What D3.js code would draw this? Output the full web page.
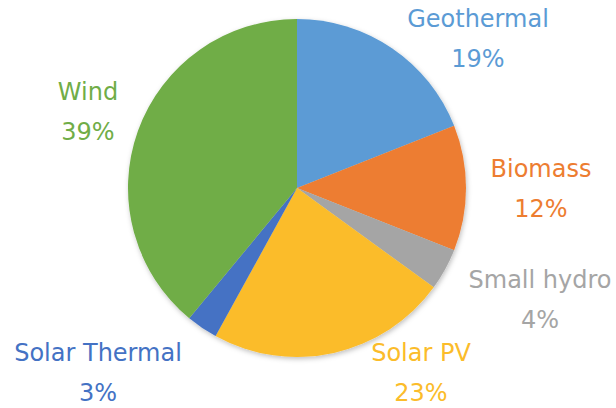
<!DOCTYPE html>
<html><head><meta charset="utf-8">
<script src="https://cdn.jsdelivr.net/npm/d3@7"></script>
<style>body{margin:0;background:#fff}svg{display:block}</style>
</head><body>
<script>
const categories = ["Geothermal","Biomass","Small hydro","Solar PV","Solar Thermal","Wind"];
const values = [19,12,4,23,3,39];
const colors = ["#5B9BD5","#ED7D31","#A5A5A5","#FBBC2A","#4472C4","#70AD47"];
const labelPos = [[478,27],[541,177],[540,288],[421,361],[98,361],[88,100]];

const W=616,H=408,cx=297,cy=188,R=169;
const svg=d3.select("body").append("svg").attr("width",W).attr("height",H);
const defs=svg.append("defs");
const f=defs.append("filter").attr("id","sh").attr("x","-10%").attr("y","-10%").attr("width","120%").attr("height","120%");
f.append("feDropShadow").attr("dx",1).attr("dy",2).attr("stdDeviation",2.5).attr("flood-color","#000").attr("flood-opacity",0.25);

const data=categories.map((c,i)=>({c,v:values[i],col:colors[i],pos:labelPos[i]}));
const pie=d3.pie().sort(null).value(d=>d.v);
const arc=d3.arc().innerRadius(0).outerRadius(R);
const g=svg.append("g").attr("transform",`translate(${cx},${cy})`).attr("filter","url(#sh)");
g.selectAll("path").data(pie(data)).join("path").attr("d",arc).attr("fill",d=>d.data.col);

const lg=svg.append("g").attr("font-family","DejaVu Sans, sans-serif").attr("font-size",24).attr("text-anchor","middle");
data.forEach(d=>{
  lg.append("text").attr("x",d.pos[0]).attr("y",d.pos[1]).attr("fill",d.col).text(d.c);
  lg.append("text").attr("x",d.pos[0]).attr("y",d.pos[1]+40).attr("fill",d.col).text(d.v+"%");
});
</script>
</body></html>
